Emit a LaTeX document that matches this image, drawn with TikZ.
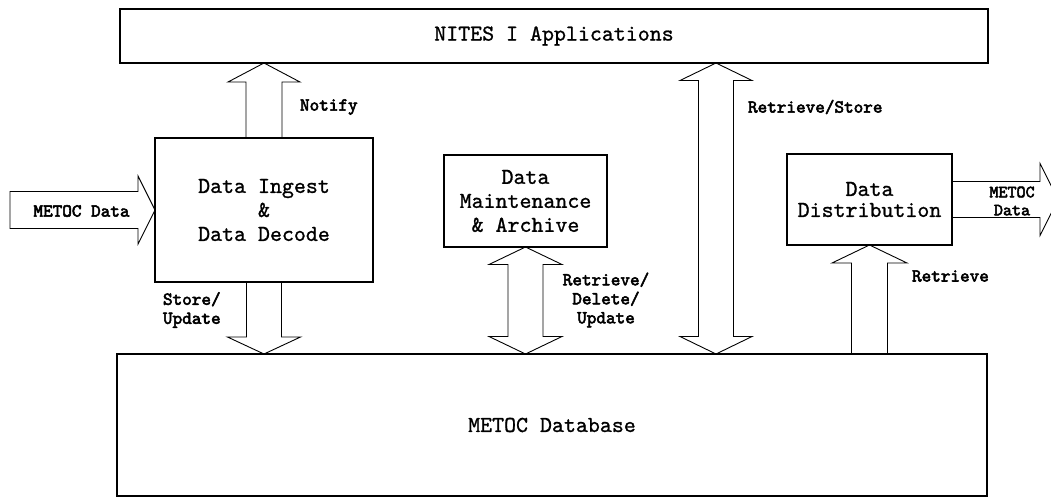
\documentclass[tikz,border=0pt]{standalone}
\usepackage{fontspec}
\newfontfamily\mainmono{lmmono10-regular.otf}[FakeBold=1.0]
\newfontfamily\labelmono{lmmono10-regular.otf}[FakeBold=3.0]
\usetikzlibrary{calc}
% vertical single arrow pointing up: #1 base, #2 tip, #3 half shaft, #4 half head, #5 head length
\newcommand\blkUp[5]{\draw[blk] let \p1=(#1), \p2=(#2) in
  (\x1-#3pt,\y1) -- (\x1-#3pt,\y2-#5pt) -- (\x1-#4pt,\y2-#5pt) -- (\x1,\y2)
  -- (\x1+#4pt,\y2-#5pt) -- (\x1+#3pt,\y2-#5pt) -- (\x1+#3pt,\y1);}
% vertical single arrow pointing down: #1 base (upper), #2 tip (lower)
\newcommand\blkDown[5]{\draw[blk] let \p1=(#1), \p2=(#2) in
  (\x1-#3pt,\y1) -- (\x1-#3pt,\y2+#5pt) -- (\x1-#4pt,\y2+#5pt) -- (\x1,\y2)
  -- (\x1+#4pt,\y2+#5pt) -- (\x1+#3pt,\y2+#5pt) -- (\x1+#3pt,\y1);}
% vertical double arrow: #1 lower tip, #2 upper tip
\newcommand\blkDbl[5]{\draw[blk] let \p1=(#1), \p2=(#2) in
  (\x1-#3pt,\y1+#5pt) -- (\x1-#4pt,\y1+#5pt) -- (\x1,\y1) -- (\x1+#4pt,\y1+#5pt)
  -- (\x1+#3pt,\y1+#5pt) -- (\x1+#3pt,\y2-#5pt) -- (\x1+#4pt,\y2-#5pt) -- (\x1,\y2)
  -- (\x1-#4pt,\y2-#5pt) -- (\x1-#3pt,\y2-#5pt) -- cycle;}
% horizontal arrow pointing right: #1 base (left), #2 tip
\newcommand\blkRight[5]{\draw[blk] let \p1=(#1), \p2=(#2) in
  (\x1,\y2+#3pt) -- (\x2-#5pt,\y2+#3pt) -- (\x2-#5pt,\y2+#4pt) -- (\x2,\y2)
  -- (\x2-#5pt,\y2-#4pt) -- (\x2-#5pt,\y2-#3pt) -- (\x1,\y2-#3pt);}
\newcommand\blkRightClosed[5]{\draw[blk] let \p1=(#1), \p2=(#2) in
  (\x1,\y2+#3pt) -- (\x2-#5pt,\y2+#3pt) -- (\x2-#5pt,\y2+#4pt) -- (\x2,\y2)
  -- (\x2-#5pt,\y2-#4pt) -- (\x2-#5pt,\y2-#3pt) -- (\x1,\y2-#3pt) -- cycle;}
\tikzset{
  box/.style={draw, line width=1.3pt, inner sep=0pt, outer sep=0pt, align=center,
    font=\mainmono\fontsize{22.8}{24}\selectfont},
  blk/.style={draw, line width=0.9pt, line join=miter},
  lbl/.style={inner sep=0pt, outer sep=0pt, font=\labelmono\fontsize{18.3}{19}\selectfont},
}
\begin{document}
\begin{tikzpicture}[x=1pt, y=-1pt]
\useasboundingbox (0,0) rectangle (1051,498);
\clip (0,0) rectangle (1051,498);
% boxes
\node[box, minimum width=868pt, minimum height=54pt] (apps) at (554,36) {NITES I Applications};
\node[box, minimum width=218pt, minimum height=144pt] (ingest) at (264,210) {Data Ingest\\\&\\Data Decode};
\node[box, minimum width=163pt, minimum height=92pt] (maint) at (525.5,201) {Data\\Maintenance\\\& Archive};
\node[box, minimum width=165pt, minimum height=91pt, font=\mainmono\fontsize{22.8}{21}\selectfont] (dist) at (869.5,199.5) {Data\\Distribution};
\node[box, minimum width=870pt, minimum height=142pt] (db) at (552,425) {METOC Database};
% helper coordinates
\coordinate (rsx) at (716,200);
\coordinate (src) at (10,211);
\coordinate (sink) at (1058,200);
% block arrows
\blkUp{ingest.north}{apps.south -| ingest.north}{18}{36}{19}
\blkDown{ingest.south}{db.north -| ingest.south}{17.5}{36.5}{17}
\blkDbl{db.north -| maint.south}{maint.south}{17.5}{36.5}{17.5}
\blkDbl{db.north -| rsx}{apps.south -| rsx}{17.5}{36}{17.5}
\blkUp{db.north -| dist.south}{dist.south}{18}{37.5}{18}
\blkRightClosed{src}{ingest.west}{18.5}{34}{17}
\blkRight{dist.east}{sink |- dist.east}{18}{36}{18}
% labels
\node[lbl, anchor=west] (lnotify) at (300,107) {Notify};
\node[lbl, anchor=west] (lrs) at (748,107) {Retrieve/Store};
\node[lbl, anchor=west, align=left] (lstore) at (163,310) {Store/\\Update};
\node[lbl, align=center] (lrdu) at (606,300) {Retrieve/\\Delete/\\Update};
\node[lbl, anchor=west] (lret) at (912,276) {Retrieve};
\node[lbl] (lin) at (81.5,211) {METOC Data};
\node[lbl, align=center, font=\labelmono\fontsize{17.2}{18}\selectfont] (lout) at (1012,201) {METOC\\Data};
\end{tikzpicture}
\end{document}
